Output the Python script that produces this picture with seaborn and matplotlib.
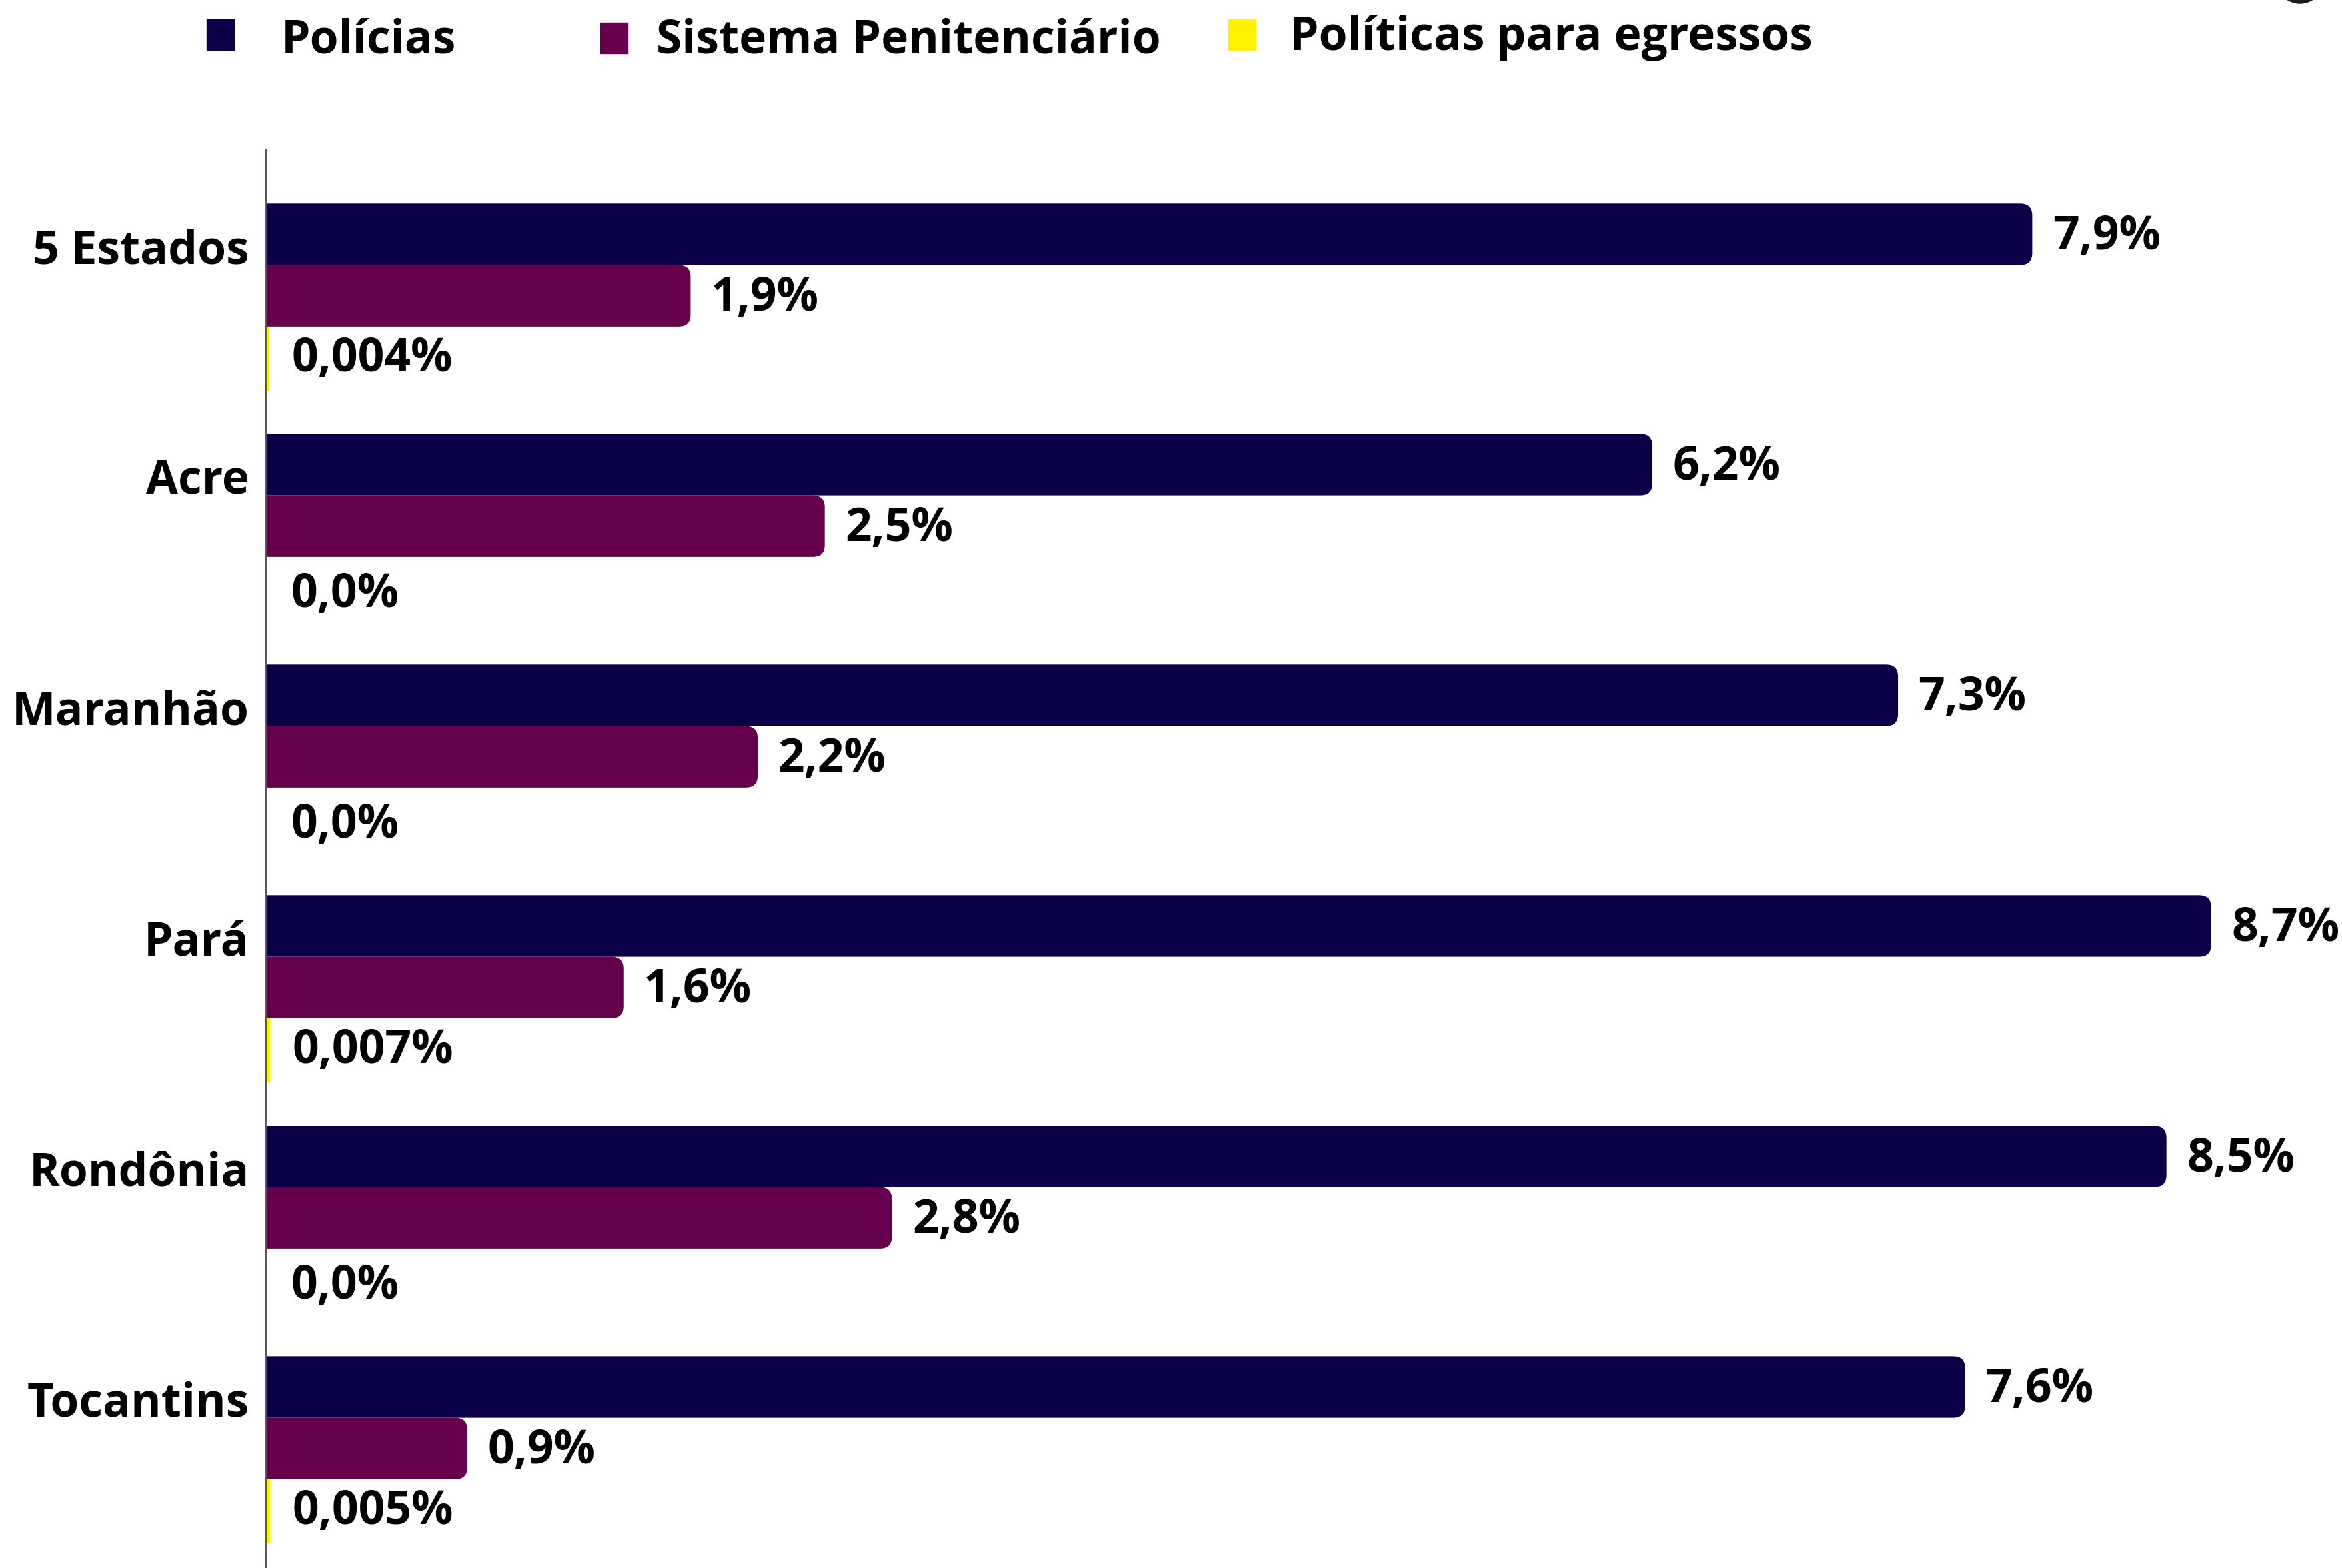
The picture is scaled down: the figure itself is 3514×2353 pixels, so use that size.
import numpy as np
import pandas as pd
import matplotlib
matplotlib.use("Agg")
import matplotlib.pyplot as plt
import seaborn as sns
from matplotlib.patches import FancyBboxPatch, Rectangle, Ellipse

# ---------------- data ----------------
estados = ["5 Estados", "Acre", "Maranhão", "Pará", "Rondônia", "Tocantins"]
series = ["Polícias", "Sistema Penitenciário", "Políticas para egressos"]
policias = [7.9, 6.2, 7.3, 8.7, 8.5, 7.6]
sistema = [1.9, 2.5, 2.2, 1.6, 2.8, 0.9]
egressos = [0.004, 0.0, 0.0, 0.007, 0.0, 0.005]
cores = ["#0B0047", "#66004D", "#FFF200"]

# ---------------- figure ----------------
W, H, DPI = 3514, 2353, 100
FS = 50
sns.set_theme(style="white")
plt.rcParams["font.family"] = ["Open Sans", "DejaVu Sans"]
plt.rcParams["font.weight"] = "bold"

df = pd.DataFrame({
    "estado": estados * 3,
    "serie": np.repeat(series, len(estados)),
    "valor": policias + sistema + egressos,
})

fig = plt.figure(figsize=(W / DPI, H / DPI), dpi=DPI)
ax_left, ax_top = 399, 224
ax = fig.add_axes([ax_left / W, 0, 1 - ax_left / W, 1 - ax_top / H])

sns.barplot(data=df, y="estado", x="valor", hue="serie", order=estados,
            hue_order=series, palette=cores, saturation=1, orient="h",
            ax=ax, legend=False, width=0.8, errorbar=None, linewidth=0)

xmax = 9.285
ymin, ymax = -0.635, 5.518
ax.set_xlim(0, xmax)
ax.set_ylim(ymax, ymin)
ax.set_xticks([])
ax.set_xlabel("")
ax.set_ylabel("")
ax.set_yticks(np.arange(len(estados)) - 0.215, labels=estados)
ax.tick_params(axis="y", length=0, pad=18, labelsize=FS, labelcolor="black")
for t in ax.get_yticklabels():
    t.set_fontweight("bold")
for s in ["top", "right", "bottom"]:
    ax.spines[s].set_visible(False)
ax.spines["left"].set_color("#555555")
ax.spines["left"].set_linewidth(1.4)

# rounding radius in data units
ax_w_px = W - ax_left
ax_h_px = H - ax_top
r_px = 18
r_x = r_px / (ax_w_px / xmax)
r_y = r_px / (ax_h_px / (ymax - ymin))


def fmt(v):
    s = f"{v:.3f}" if 0 < v < 0.01 else f"{v:.1f}"
    return s.replace(".", ",") + "%"


for ci, cont in enumerate(ax.containers):
    for rect in cont:
        x0, y0 = rect.get_x(), rect.get_y()
        w, h = rect.get_width(), rect.get_height()
        if w > 3 * r_x:
            rect.set_visible(False)
            fb = FancyBboxPatch((x0 - 2 * r_x, y0), w + 2 * r_x, h,
                                boxstyle=f"round,pad=0,rounding_size={r_x}",
                                mutation_aspect=r_y / r_x,
                                fc=cores[ci], ec="none", zorder=rect.get_zorder())
            ax.add_patch(fb)
            off, dy = 22, -3
        else:
            if w > 0:
                rect.set_edgecolor(cores[ci])
                rect.set_linewidth(6)
                dy = -2
            else:
                dy = -8
            off = 27
        ax.annotate(fmt(w), (x0 + w, y0 + h / 2), xytext=(off, dy),
                    textcoords="offset points", ha="left", va="center",
                    fontsize=FS, fontweight="bold", color="black",
                    annotation_clip=False)

# ---------------- legend (manual) ----------------
sq = [(310, 29), (901, 34), (1843, 29)]
txt = [(422, 80), (985, 80), (1935, 75)]
for i, name in enumerate(series):
    x, y = sq[i]
    fig.add_artist(Rectangle((x / W, 1 - (y + 46) / H), 41 / W, 46 / H,
                             transform=fig.transFigure, color=cores[i]))
    tx, ty = txt[i]
    fig.text(tx / W, 1 - ty / H, name, fontsize=FS, fontweight="bold",
             ha="left", va="baseline", color="black")

# partial logo circle at the top right
fig.add_artist(Ellipse((3451 / W, 1 + 31 / H), 72 / W, 72 / H,
                       transform=fig.transFigure, color="#1a1a1a"))

fig.savefig("out.png", dpi=DPI)
